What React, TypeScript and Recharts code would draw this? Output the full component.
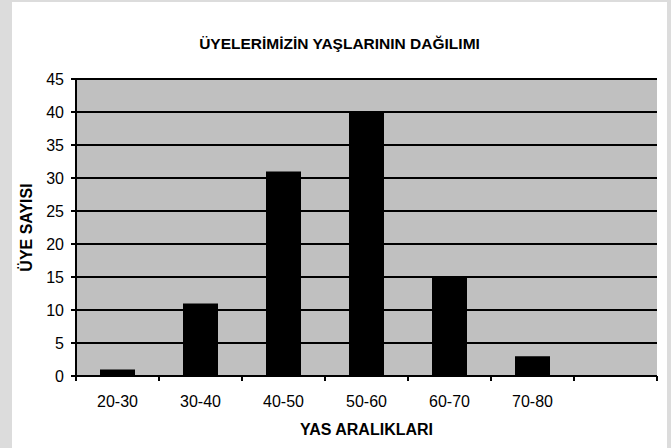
import { BarChart, Bar, XAxis, YAxis, CartesianGrid, Label } from "recharts";

const categories = ["20-30", "30-40", "40-50", "50-60", "60-70", "70-80", ""];
const members = [1, 11, 31, 40, 15, 3, null];
const yTicks = [0, 5, 10, 15, 20, 25, 30, 35, 40, 45];

const data = categories.map((range, i) => ({ range, count: members[i] }));

const FONT = "'Liberation Sans', Arial, sans-serif";
const PLOT_BG = "#c0c0c0";
const CHART_W = 655;
const CHART_H = 446;
const MARGIN = { top: 77, right: 10, bottom: 0, left: 0 };
const Y_W = 64;
const TICK_SIZE = 5;
const TICK_MARGIN = 12;
const BAND = (CHART_W - MARGIN.left - MARGIN.right - Y_W) / categories.length;

function EdgeTick(props: any) {
  const { x, y, payload, index } = props;
  const axisY = y - TICK_SIZE - TICK_MARGIN;
  const left = x - BAND / 2;
  return (
    <g>
      <line x1={left} x2={left} y1={axisY} y2={axisY + TICK_SIZE} stroke="#000" strokeWidth={2} />
      {index === categories.length - 1 && (
        <line x1={left + BAND} x2={left + BAND} y1={axisY} y2={axisY + TICK_SIZE} stroke="#000" strokeWidth={2} />
      )}
      <text x={x} y={y} dy={14} textAnchor="middle" fontSize={16} fontFamily={FONT} fill="#000">
        {payload.value}
      </text>
    </g>
  );
}

function YTitle(props: any) {
  const vb = props.viewBox || {};
  const cx = 14;
  const cy = vb.y + vb.height / 2;
  return (
    <text
      x={cx}
      y={cy}
      transform={`rotate(-90 ${cx} ${cy})`}
      textAnchor="middle"
      dominantBaseline="central"
      fontSize={16}
      fontWeight="bold"
      fontFamily={FONT}
      fill="#000"
    >
      ÜYE SAYISI
    </text>
  );
}

export default function App() {
  return (
    <div
      style={{
        position: "absolute",
        left: 0,
        top: 0,
        width: 671,
        height: 448,
        background: "#dcdcdc",
        overflow: "hidden",
      }}
    >
      <div
        style={{
          position: "absolute",
          left: 12,
          top: 2,
          width: CHART_W,
          height: CHART_H,
          background: "#fff",
        }}
      >
        <div
          style={{
            position: "absolute",
            top: 33,
            left: 0,
            width: CHART_W,
            textAlign: "center",
            fontFamily: FONT,
            fontWeight: "bold",
            fontSize: 15.5,
            color: "#000",
          }}
        >
          ÜYELERİMİZİN YAŞLARININ DAĞILIMI
        </div>
        <BarChart width={CHART_W} height={CHART_H} data={data} margin={MARGIN} barSize={35}>
          <CartesianGrid
            fill={PLOT_BG}
            stroke="#000"
            strokeWidth={2}
            vertical={false}
            horizontalValues={yTicks}
          />
          <XAxis
            dataKey="range"
            height={72}
            tickLine={false}
            tickSize={TICK_SIZE}
            tickMargin={TICK_MARGIN}
            axisLine={{ stroke: "#000", strokeWidth: 2 }}
            tick={<EdgeTick />}
            interval={0}
          >
            <Label
              value="YAS ARALIKLARI"
              position="insideBottom"
              offset={13}
              style={{ fontSize: 16, fontWeight: "bold", fontFamily: FONT, fill: "#000" }}
            />
          </XAxis>
          <YAxis
            width={Y_W}
            domain={[0, 45]}
            ticks={yTicks}
            interval={0}
            tickSize={TICK_SIZE}
            tickMargin={7}
            tickLine={{ stroke: "#000", strokeWidth: 2 }}
            axisLine={{ stroke: "#000", strokeWidth: 2 }}
            tick={{ fontSize: 16, fontFamily: FONT, fill: "#000" }}
          >
            <Label content={<YTitle />} />
          </YAxis>
          <YAxis
            yAxisId="edge"
            orientation="right"
            width={0}
            domain={[0, 45]}
            tick={false}
            tickLine={false}
            axisLine={{ stroke: "#808080", strokeWidth: 2 }}
          />
          <Bar dataKey="count" fill="#000" isAnimationActive={false} />
        </BarChart>
      </div>
    </div>
  );
}
